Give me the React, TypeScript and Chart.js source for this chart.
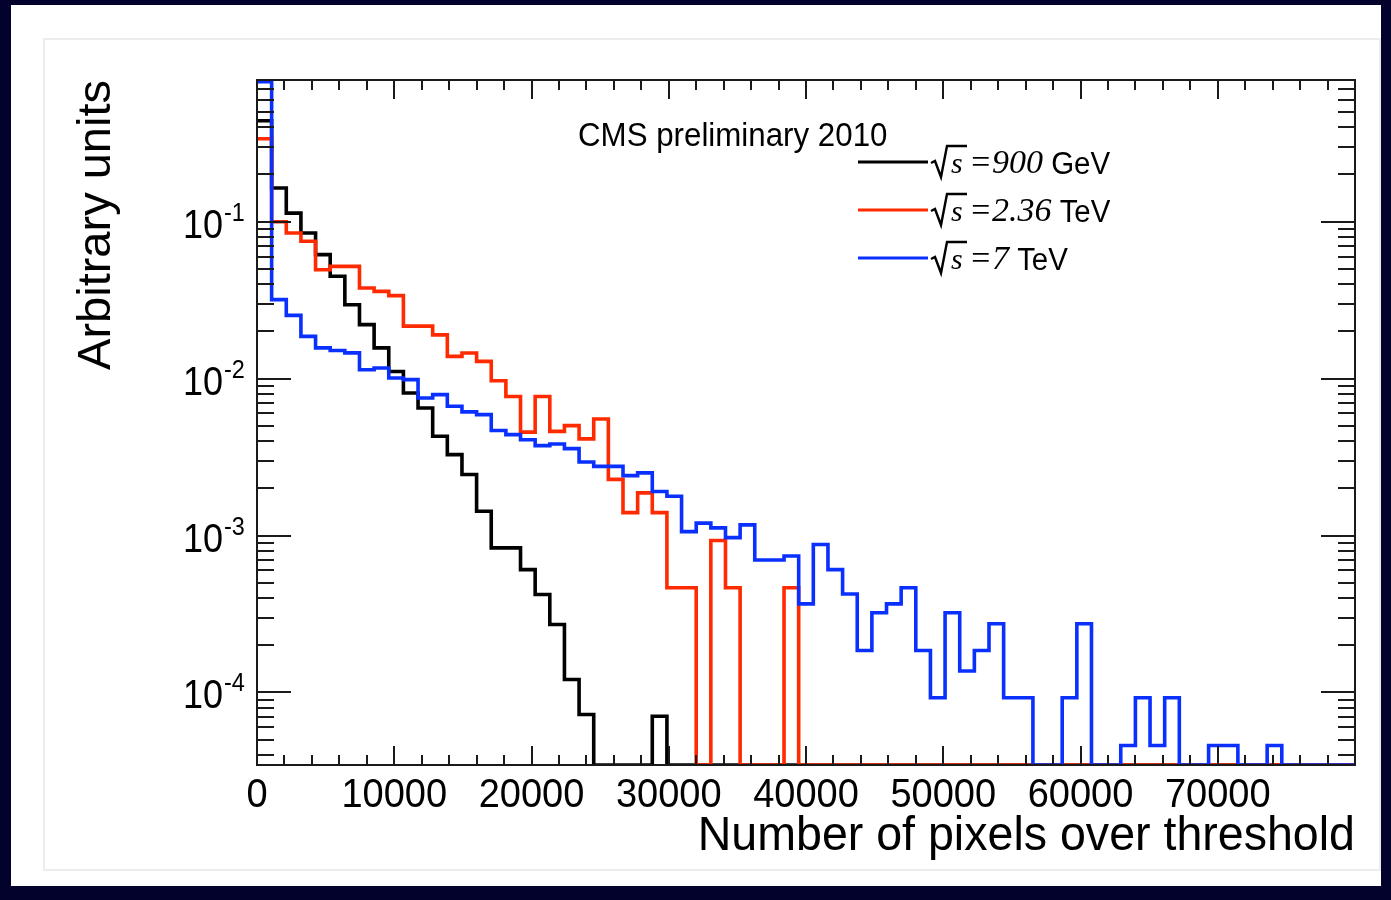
import { useEffect, useRef } from 'react';
import { Chart, registerables } from 'chart.js';

Chart.register(...registerables);

// Histogram binning: 75 equal bins over 0 .. 80000 pixels
const X_MAX = 80000;
const BIN_COUNT = 75;
const BIN_WIDTH = X_MAX / BIN_COUNT;

// Log axis range (arbitrary units)
const Y_MIN = 3.45e-5;
const Y_MAX = 0.8;

const xTickValues = [0, 10000, 20000, 30000, 40000, 50000, 60000, 70000];
const xTickLabels = ['0', '10000', '20000', '30000', '40000', '50000', '60000', '70000'];
const yDecades = [1e-1, 1e-2, 1e-3, 1e-4];
const yDecadeExponents = ['-1', '-2', '-3', '-4'];

const seriesLabels = ['900', '2.36', '7'];
const seriesUnits = ['GeV', 'TeV', 'TeV'];
const seriesColors = ['#000000', '#ff2a00', '#0a30ff'];

// Normalised counts per bin, sqrt(s) = 900 GeV
const hist900GeV = [
  0.44, 0.164, 0.1135, 0.0847, 0.0617, 0.0449, 0.0296, 0.0221, 0.0157, 0.0111,
  0.0081, 0.0065, 0.00429, 0.00328, 0.00245, 0.00143, 0.000835, 0.000835, 0.000607, 0.000421,
  0.000271, 0.000121, 0.0000724, 0, 0, 0, 0, 0.0000706, 0, 0,
  0, 0, 0, 0, 0, 0, 0, 0, 0, 0,
  0, 0, 0, 0, 0, 0, 0, 0, 0, 0,
  0, 0, 0, 0, 0, 0, 0, 0, 0, 0,
  0, 0, 0, 0, 0, 0, 0, 0, 0, 0,
  0, 0, 0, 0, 0,
];

// Normalised counts per bin, sqrt(s) = 2.36 TeV
const hist236TeV = [
  0.338, 0.1, 0.0847, 0.075, 0.0494, 0.0519, 0.0519, 0.0378, 0.036, 0.0338,
  0.0216, 0.0216, 0.019, 0.01386, 0.01458, 0.01289, 0.0097, 0.0077, 0.00456, 0.0077,
  0.00461, 0.00502, 0.00413, 0.00553, 0.00228, 0.0014, 0.00187, 0.0014, 0.000465, 0.000465,
  0, 0.00093, 0.000465, 0, 0, 0, 0.000465, 0, 0, 0,
  0, 0, 0, 0, 0, 0, 0, 0, 0, 0,
  0, 0, 0, 0, 0, 0, 0, 0, 0, 0,
  0, 0, 0, 0, 0, 0, 0, 0, 0, 0,
  0, 0, 0, 0, 0,
];

// Normalised counts per bin, sqrt(s) = 7 TeV
const hist7TeV = [
  0.78, 0.0319, 0.0253, 0.0186, 0.0157, 0.0151, 0.0146, 0.0114, 0.0117, 0.0101,
  0.00986, 0.00753, 0.00791, 0.00667, 0.00614, 0.0059, 0.00467, 0.0044, 0.00408, 0.00374,
  0.00383, 0.00358, 0.00294, 0.00276, 0.00276, 0.00241, 0.00251, 0.00191, 0.00178, 0.00106,
  0.0012, 0.00112, 0.00097, 0.00117, 0.000698, 0.000698, 0.00074, 0.000367, 0.000877, 0.000607,
  0.000424, 0.000185, 0.000322, 0.000367, 0.000465, 0.000185, 0.0000925, 0.000322, 0.000137, 0.000185,
  0.000274, 0.0000925, 0.0000925, 0, 0, 0.0000925, 0.000274, 0, 0, 0.0000459,
  0.0000925, 0.0000459, 0.0000925, 0, 0, 0.0000459, 0.0000459, 0, 0, 0.0000459,
  0, 0, 0, 0, 0,
];

const SANS = '"Liberation Sans", Arial, Helvetica, sans-serif';
const SERIF = '"Liberation Serif", "Times New Roman", serif';
const NAVY = '#02022c';

// One point per bin lower edge plus the closing upper edge; empty bins
// sit on the floor of the log axis, as a histogram outline does
function toSteps(values: number[]) {
  const pts = values.map((v, i) => ({ x: i * BIN_WIDTH, y: v > 0 ? v : Y_MIN }));
  const last = values[values.length - 1];
  pts.push({ x: X_MAX, y: last > 0 ? last : Y_MIN });
  return pts;
}

function textScaled(
  ctx: CanvasRenderingContext2D,
  text: string,
  x: number,
  y: number,
  font: string,
  align: CanvasTextAlign,
  sx: number,
) {
  ctx.save();
  ctx.translate(x, y);
  ctx.scale(sx, 1);
  ctx.font = font;
  ctx.textAlign = align;
  ctx.textBaseline = 'alphabetic';
  ctx.fillText(text, 0, 0);
  ctx.restore();
}

const pageFrame = {
  id: 'pageFrame',
  beforeDraw(chart: Chart) {
    const { ctx, width, height } = chart;
    ctx.save();
    ctx.fillStyle = NAVY;
    ctx.fillRect(0, 0, width, height);
    ctx.fillStyle = '#ffffff';
    ctx.fillRect(11, 5, width - 11 - 10, height - 5 - 14);
    ctx.strokeStyle = '#ececec';
    ctx.lineWidth = 2;
    ctx.strokeRect(44, 39, 1336, 831);
    ctx.restore();
  },
};

const rootAxes = {
  id: 'rootAxes',
  afterDatasetsDraw(chart: Chart) {
    const { ctx, chartArea } = chart;
    const xs = chart.scales.x;
    const ys = chart.scales.y;
    const { left, right, top, bottom } = chartArea;
    ctx.save();
    ctx.strokeStyle = '#1a1a1a';
    ctx.lineWidth = 2;
    ctx.strokeRect(left, top, right - left, bottom - top);

    ctx.beginPath();
    // x ticks every 2000, long ones every 10000, on bottom and top
    for (let v = 0; v <= X_MAX; v += 2000) {
      const px = Math.round(xs.getPixelForValue(v));
      const len = v % 10000 === 0 ? 19 : 10;
      ctx.moveTo(px, bottom);
      ctx.lineTo(px, bottom - len);
      ctx.moveTo(px, top);
      ctx.lineTo(px, top + len);
    }
    // log ticks on left and right
    for (let e = -5; e <= 0; e++) {
      for (let k = 1; k <= 9; k++) {
        const v = k * Math.pow(10, e);
        if (v < Y_MIN || v > Y_MAX) continue;
        const py = Math.round(ys.getPixelForValue(v));
        const len = k === 1 ? 34 : 17;
        ctx.moveTo(left, py);
        ctx.lineTo(left + len, py);
        ctx.moveTo(right, py);
        ctx.lineTo(right - len, py);
      }
    }
    ctx.stroke();

    ctx.fillStyle = '#000000';
    // x tick labels
    xTickValues.forEach((v, i) => {
      textScaled(ctx, xTickLabels[i], xs.getPixelForValue(v), 807, `40px ${SANS}`, 'center', 0.95);
    });
    // y tick labels with superscript exponent
    yDecades.forEach((v, i) => {
      const py = ys.getPixelForValue(v);
      textScaled(ctx, '10', 223, py + 16, `40px ${SANS}`, 'right', 0.9);
      textScaled(ctx, yDecadeExponents[i], 224, py - 1, `26px ${SANS}`, 'left', 0.9);
    });

    // axis titles
    textScaled(ctx, 'Number of pixels over threshold', right, 850, `48px ${SANS}`, 'right', 0.97);
    ctx.save();
    ctx.translate(110, top);
    ctx.rotate(-Math.PI / 2);
    ctx.font = `47px ${SANS}`;
    ctx.textAlign = 'right';
    ctx.textBaseline = 'alphabetic';
    ctx.fillText('Arbitrary units', 0, 0);
    ctx.restore();

    // annotation
    textScaled(ctx, 'CMS preliminary 2010', 578, 146, `34px ${SANS}`, 'left', 0.92);

    // legend
    const legendY = [162, 210, 258];
    seriesLabels.forEach((lab, i) => {
      const y = legendY[i];
      ctx.strokeStyle = seriesColors[i];
      ctx.lineWidth = 3;
      ctx.beginPath();
      ctx.moveTo(858, y);
      ctx.lineTo(928, y);
      ctx.stroke();

      // radical sign over s
      ctx.strokeStyle = '#000000';
      ctx.lineWidth = 2.4;
      ctx.beginPath();
      ctx.moveTo(931, y + 1);
      ctx.lineTo(935, y - 1);
      ctx.lineTo(941, y + 15);
      ctx.lineTo(947, y - 16);
      ctx.lineTo(967, y - 16);
      ctx.stroke();
      ctx.fillStyle = '#000000';
      textScaled(ctx, 's', 951, y + 11, `italic 30px ${SERIF}`, 'left', 1);
      const expr = '=' + lab;
      textScaled(ctx, expr, 969, y + 11, `italic 34px ${SERIF}`, 'left', 1);
      ctx.font = `italic 34px ${SERIF}`;
      const w = ctx.measureText(expr).width;
      textScaled(ctx, ' ' + seriesUnits[i], 969 + w, y + 12, `31px ${SANS}`, 'left', 0.95);
    });
    ctx.restore();
  },
};

export default function App() {
  const canvasRef = useRef<HTMLCanvasElement | null>(null);

  useEffect(() => {
    document.body.style.margin = '0';
    const canvas = canvasRef.current;
    if (!canvas) return;
    const series = [hist900GeV, hist236TeV, hist7TeV];
    const chart = new Chart(canvas, {
      type: 'line',
      data: {
        datasets: series.map((vals, i) => ({
          label: `sqrt(s) = ${seriesLabels[i]} ${seriesUnits[i]}`,
          data: toSteps(vals),
          borderColor: seriesColors[i],
          borderWidth: 3.6,
          stepped: 'before' as const,
          fill: false,
          pointRadius: 0,
          tension: 0,
          order: 3 - i,
        })),
      },
      options: {
        animation: false,
        responsive: false,
        maintainAspectRatio: false,
        devicePixelRatio: 1,
        layout: { padding: { left: 257, top: 80, right: 36, bottom: 135 } },
        scales: {
          x: { type: 'linear', min: 0, max: X_MAX, display: false },
          y: { type: 'logarithmic', min: Y_MIN, max: Y_MAX, display: false },
        },
        plugins: { legend: { display: false }, tooltip: { enabled: false } },
      },
      plugins: [pageFrame, rootAxes],
    });
    return () => chart.destroy();
  }, []);

  return <canvas ref={canvasRef} width={1391} height={900} style={{ display: 'block' }} />;
}
